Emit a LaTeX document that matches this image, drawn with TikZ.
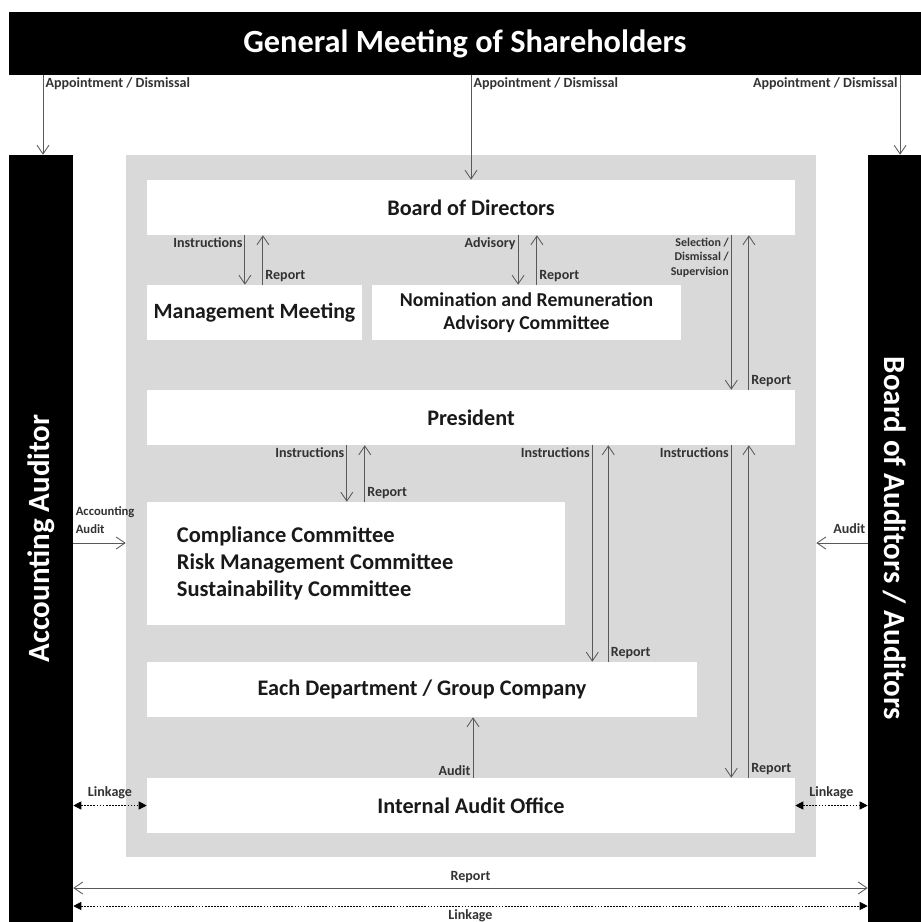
\documentclass[tikz,border=0pt]{standalone}
\usepackage{fontspec}
\setmainfont{Carlito}
\usetikzlibrary{arrows.meta,positioning}
\begin{document}
\begin{tikzpicture}[x=0.25mm,y=-0.25mm,
box/.style={fill=white,inner sep=0pt,minimum height=13.75mm,text=black!90,font=\fontsize{15.8}{18}\selectfont\bfseries},
bar/.style={fill=black,text=white,inner sep=0pt,font=\fontsize{22}{26}\selectfont\bfseries},
lbl/.style={inner sep=1.5pt,text=black!80,font=\fontsize{10}{11}\selectfont\bfseries},
arr/.style={draw=black!65,line width=0.6pt,-{Straight Barb[length=2.2mm,width=3mm]}},
link/.style={line width=0.5pt,dash pattern=on 1.2pt off 1pt,{Triangle[length=2mm,width=2mm]}-{Triangle[length=2mm,width=2mm]}}]
\useasboundingbox (0,0) rectangle (921,922);
\node[fill=black!15,minimum width=172.5mm,minimum height=175.5mm] (frame) at (471,506) {};
\node[bar,minimum width=228mm,minimum height=15.75mm,font=\fontsize{23}{27}\selectfont\bfseries] (gms) at (465,43.5) {General Meeting of Shareholders};
\node[bar,rotate=90,minimum width=191.75mm,minimum height=16mm] (acc) at (41,538.5) {Accounting Auditor};
\node[bar,rotate=-90,minimum width=191.75mm,minimum height=13.25mm] (aud) at (894.5,538.5) {Board of Auditors / Auditors};
\node[box,minimum width=162mm] (bod) at (471,207.5) {Board of Directors};
\node[box,minimum width=53.75mm,font=\fontsize{15.5}{18}\selectfont\bfseries] (mm) at (254.5,312.5) {Management Meeting};
\node[box,minimum width=77.25mm,align=center,font=\fontsize{14}{16.5}\selectfont\bfseries] (nrc) at (526.5,312.5) {Nomination and Remuneration\\Advisory Committee};
\node[box,minimum width=162mm] (pres) at (471,417.5) {President};
\node[box,minimum height=30.75mm,text width=89.5mm,inner xsep=7.5mm,align=flush left,font=\fontsize{16}{19.2}\selectfont\bfseries] (comp) at (356,563.5) {Compliance Committee\\Risk Management Committee\\Sustainability Committee};
\node[box,minimum width=137.5mm] (dept) at (422,689.5) {Each Department / Group Company};
\node[box,minimum width=162mm] (iao) at (471,805.5) {Internal Audit Office};
\coordinate (audy) at (0,543);
\coordinate (repy) at (0,888);
\coordinate (linky) at (0,906);

\draw[arr] ([xshift=0.5mm]acc.east |- gms.south) -- ([xshift=0.5mm]acc.east) node[lbl,pos=0,anchor=north west]{Appointment / Dismissal};
\draw[arr] (gms.south -| bod.north) -- (bod.north) node[lbl,pos=0,anchor=north west]{Appointment / Dismissal};
\draw[arr] ([xshift=1.4mm]aud.west |- gms.south) -- ([xshift=1.4mm]aud.west) node[lbl,pos=0,anchor=north east]{Appointment / Dismissal};

\draw[arr] ([xshift=-2.4mm]mm.north |- bod.south) -- ([xshift=-2.4mm]mm.north) node[lbl,pos=0,anchor=north east]{Instructions};
\draw[arr] ([xshift=2.1mm]mm.north) -- ([xshift=2.1mm]mm.north |- bod.south) node[lbl,pos=0,anchor=south west]{Report};
\draw[arr] ([xshift=-2.1mm]nrc.north |- bod.south) -- ([xshift=-2.1mm]nrc.north) node[lbl,pos=0,anchor=north east]{Advisory};
\draw[arr] ([xshift=2.6mm]nrc.north) -- ([xshift=2.6mm]nrc.north |- bod.south) node[lbl,pos=0,anchor=south west]{Report};
\draw[arr] ([xshift=-16mm]bod.south east) -- ([xshift=-16mm]pres.north east) node[lbl,pos=0,anchor=north east,align=right,font=\fontsize{8.5}{10.5}\selectfont\bfseries]{Selection /\\Dismissal /\\Supervision};
\draw[arr] ([xshift=-11.6mm]pres.north east) -- ([xshift=-11.6mm]bod.south east) node[lbl,pos=0,anchor=south west]{Report};

\draw[arr] ([xshift=-2.3mm]comp.north |- pres.south) -- ([xshift=-2.3mm]comp.north) node[lbl,pos=0,anchor=north east]{Instructions};
\draw[arr] ([xshift=2.2mm]comp.north) -- ([xshift=2.2mm]comp.north |- pres.south) node[lbl,pos=0,anchor=south west]{Report};
\draw[arr] ([xshift=-26.25mm]dept.north east |- pres.south) -- ([xshift=-26.25mm]dept.north east) node[lbl,pos=0,anchor=north east]{Instructions};
\draw[arr] ([xshift=-22.25mm]dept.north east) -- ([xshift=-22.25mm]dept.north east |- pres.south) node[lbl,pos=0,anchor=south west]{Report};
\draw[arr] ([xshift=-16mm]pres.south east) -- ([xshift=-16mm]iao.north east) node[lbl,pos=0,anchor=north east]{Instructions};
\draw[arr] ([xshift=-11.6mm]iao.north east) -- ([xshift=-11.6mm]pres.south east) node[lbl,pos=0,anchor=south west]{Report};
\draw[arr] ([xshift=0.5mm]iao.north) -- ([xshift=0.5mm]iao.north |- dept.south) node[lbl,pos=0,anchor=south east]{Audit};

\draw[arr] (acc.south |- audy) -- (frame.west |- audy) node[lbl,pos=0,anchor=south west,yshift=1.8mm,align=left,font=\fontsize{9}{12.5}\selectfont\bfseries]{Accounting\\Audit};
\draw[arr] (aud.south |- audy) -- (frame.east |- audy) node[lbl,pos=0,anchor=south east,yshift=1.8mm]{Audit};
\draw[link] (acc.south |- iao.west) -- (iao.west) node[lbl,midway,above=1mm]{Linkage};
\draw[link] (iao.east) -- (aud.south |- iao.east) node[lbl,midway,above=1mm]{Linkage};
\draw[arr,{Straight Barb[length=2.2mm,width=3mm]}-{Straight Barb[length=2.2mm,width=3mm]}] (acc.south |- repy) -- (aud.south |- repy) node[lbl,midway,above=0.8mm]{Report};
\draw[link] (acc.south |- linky) -- (aud.south |- linky) node[lbl,midway,below=0.2mm]{Linkage};
\end{tikzpicture}
\end{document}
